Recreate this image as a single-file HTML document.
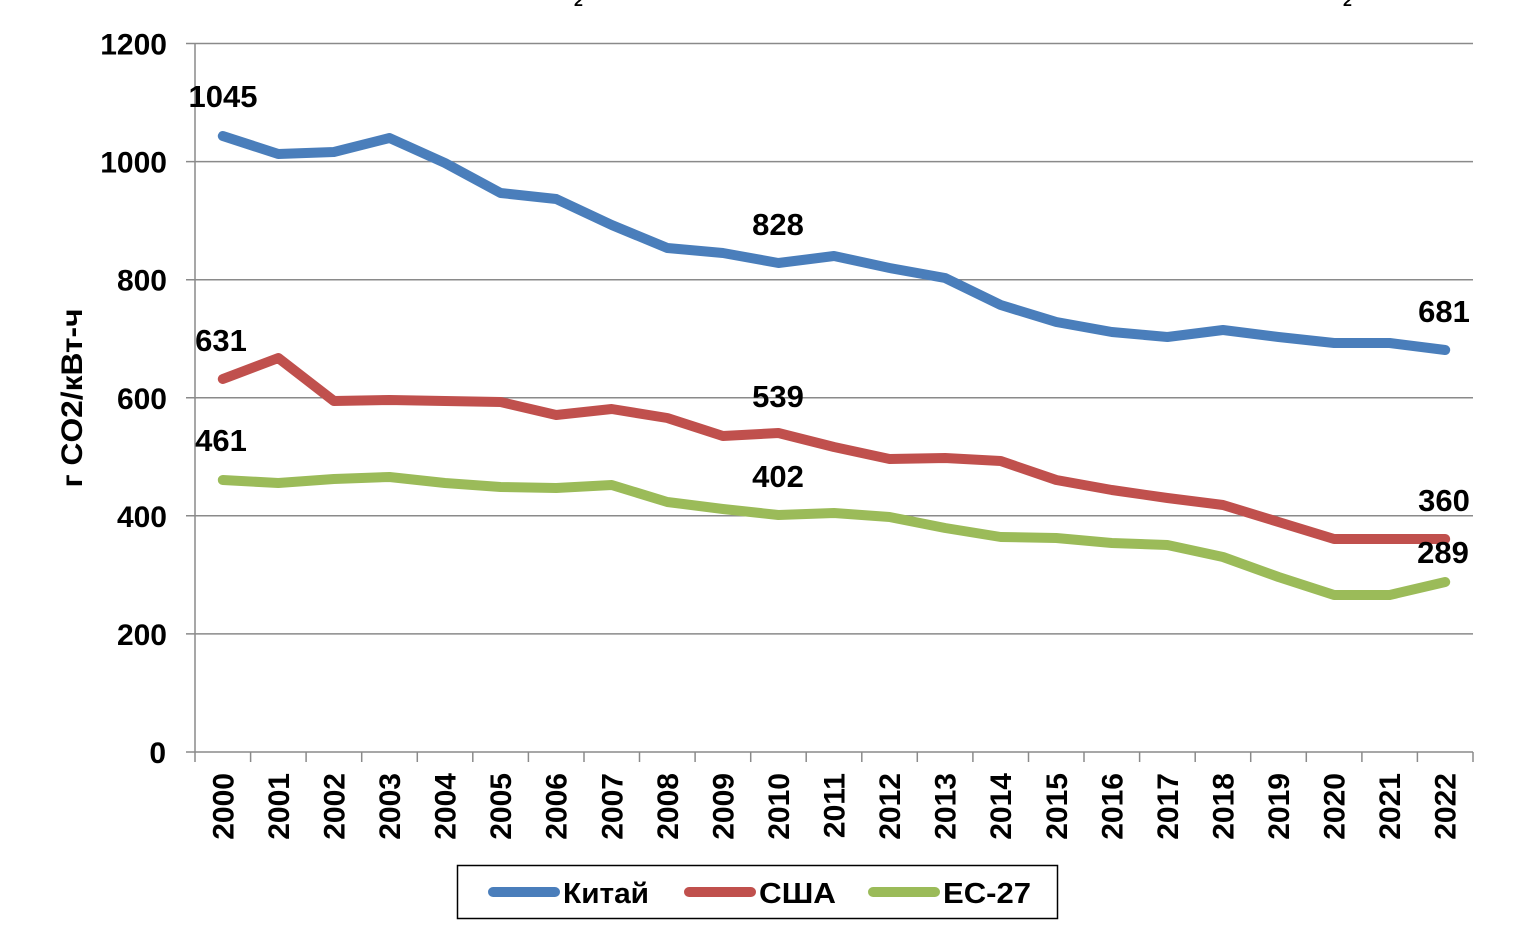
<!DOCTYPE html>
<html><head><meta charset="utf-8"><style>
html,body{margin:0;padding:0;background:#fff;}
svg{display:block;}
text{font-family:"Liberation Sans",Arial,sans-serif;font-weight:bold;fill:#000;}
</style></head><body>
<svg width="1515" height="943" viewBox="0 0 1515 943" xmlns="http://www.w3.org/2000/svg">
<rect width="1515" height="943" fill="#fff"/>
<!-- cropped title remnants -->
<text x="574" y="6" font-size="16" font-weight="normal" fill="#222">2</text>
<text x="1343" y="6" font-size="16" font-weight="normal" fill="#222">2</text>
<!-- gridlines -->
<g stroke="#8a8a8a" stroke-width="1.5">
<line x1="186" y1="43.5" x2="1473" y2="43.5"/>
<line x1="186" y1="161.6" x2="1473" y2="161.6"/>
<line x1="186" y1="279.7" x2="1473" y2="279.7"/>
<line x1="186" y1="397.8" x2="1473" y2="397.8"/>
<line x1="186" y1="515.8" x2="1473" y2="515.8"/>
<line x1="186" y1="633.9" x2="1473" y2="633.9"/>
<line x1="186" y1="752" x2="1473" y2="752"/>
<line x1="195" y1="43.5" x2="195" y2="752"/>
</g>
<!-- x ticks -->
<g stroke="#8a8a8a" stroke-width="1.5">
<line x1="195" y1="752" x2="195" y2="762"/><line x1="250.6" y1="752" x2="250.6" y2="762"/><line x1="306.1" y1="752" x2="306.1" y2="762"/><line x1="361.7" y1="752" x2="361.7" y2="762"/><line x1="417.3" y1="752" x2="417.3" y2="762"/><line x1="472.8" y1="752" x2="472.8" y2="762"/><line x1="528.4" y1="752" x2="528.4" y2="762"/><line x1="584" y1="752" x2="584" y2="762"/><line x1="639.5" y1="752" x2="639.5" y2="762"/><line x1="695.1" y1="752" x2="695.1" y2="762"/><line x1="750.7" y1="752" x2="750.7" y2="762"/><line x1="806.2" y1="752" x2="806.2" y2="762"/><line x1="861.8" y1="752" x2="861.8" y2="762"/><line x1="917.3" y1="752" x2="917.3" y2="762"/><line x1="972.9" y1="752" x2="972.9" y2="762"/><line x1="1028.5" y1="752" x2="1028.5" y2="762"/><line x1="1084" y1="752" x2="1084" y2="762"/><line x1="1139.6" y1="752" x2="1139.6" y2="762"/><line x1="1195.2" y1="752" x2="1195.2" y2="762"/><line x1="1250.7" y1="752" x2="1250.7" y2="762"/><line x1="1306.3" y1="752" x2="1306.3" y2="762"/><line x1="1361.9" y1="752" x2="1361.9" y2="762"/><line x1="1417.4" y1="752" x2="1417.4" y2="762"/><line x1="1473" y1="752" x2="1473" y2="762"/>
</g>
<!-- y tick labels -->
<g font-size="30" text-anchor="end">
<text x="167" y="54.5">1200</text>
<text x="167" y="172.6">1000</text>
<text x="167" y="290.7">800</text>
<text x="167" y="408.8">600</text>
<text x="167" y="526.8">400</text>
<text x="167" y="644.9">200</text>
<text x="166" y="763">0</text>
</g>
<!-- y axis title -->
<text transform="translate(82,398) rotate(-90)" font-size="30" text-anchor="middle" textLength="179" lengthAdjust="spacingAndGlyphs">г CO2/кВт-ч</text>
<!-- x labels -->
<g font-size="30" text-anchor="end">
<text transform="translate(233.3,773) rotate(-90)">2000</text>
<text transform="translate(288.9,773) rotate(-90)">2001</text>
<text transform="translate(344.4,773) rotate(-90)">2002</text>
<text transform="translate(400,773) rotate(-90)">2003</text>
<text transform="translate(455.6,773) rotate(-90)">2004</text>
<text transform="translate(511.1,773) rotate(-90)">2005</text>
<text transform="translate(566.7,773) rotate(-90)">2006</text>
<text transform="translate(622.3,773) rotate(-90)">2007</text>
<text transform="translate(677.8,773) rotate(-90)">2008</text>
<text transform="translate(733.4,773) rotate(-90)">2009</text>
<text transform="translate(789,773) rotate(-90)">2010</text>
<text transform="translate(844.5,773) rotate(-90)">2011</text>
<text transform="translate(900.1,773) rotate(-90)">2012</text>
<text transform="translate(955.6,773) rotate(-90)">2013</text>
<text transform="translate(1011.2,773) rotate(-90)">2014</text>
<text transform="translate(1066.8,773) rotate(-90)">2015</text>
<text transform="translate(1122.3,773) rotate(-90)">2016</text>
<text transform="translate(1177.9,773) rotate(-90)">2017</text>
<text transform="translate(1233.5,773) rotate(-90)">2018</text>
<text transform="translate(1289,773) rotate(-90)">2019</text>
<text transform="translate(1344.6,773) rotate(-90)">2020</text>
<text transform="translate(1400.2,773) rotate(-90)">2021</text>
<text transform="translate(1455.7,773) rotate(-90)">2022</text>
</g>
<!-- series -->
<g fill="none" stroke-width="10" stroke-linejoin="round" stroke-linecap="round">
<polyline stroke="#4A7EBB" points="222.8,136 278.3,154 333.9,152 389.5,138 445,163 500.6,193 556.2,199 611.7,225 667.3,248 722.9,253 778.4,263 834,256 889.6,268 945.1,278 1000.7,305 1056.3,322 1111.8,332 1167.4,337 1223,330 1278.5,337 1334.1,343 1389.7,343 1445.2,350"/>
<polyline stroke="#C0504D" points="222.8,379 278.3,358 333.9,401 389.5,400 445,401 500.6,402 556.2,415 611.7,409 667.3,418 722.9,436 778.4,433 834,447 889.6,459 945.1,458 1000.7,461 1056.3,480 1111.8,490 1167.4,498 1223,505 1278.5,522 1334.1,539 1389.7,539 1445.2,539"/>
<polyline stroke="#9BBB59" points="222.8,480 278.3,483 333.9,479 389.5,477 445,483 500.6,487 556.2,488 611.7,485 667.3,502 722.9,509 778.4,515 834,513 889.6,517 945.1,528 1000.7,537 1056.3,538 1111.8,543 1167.4,545 1223,557 1278.5,577 1334.1,595 1389.7,595 1445.2,582"/>
</g>
<!-- data labels -->
<g font-size="31" text-anchor="middle">
<text x="223" y="107">1045</text>
<text x="221" y="351">631</text>
<text x="221" y="451">461</text>
<text x="778" y="235">828</text>
<text x="778" y="407">539</text>
<text x="778" y="487">402</text>
<text x="1444" y="322">681</text>
<text x="1444" y="511">360</text>
<text x="1443" y="563">289</text>
</g>
<!-- legend -->
<rect x="457.5" y="865.5" width="600" height="53" fill="#fff" stroke="#000" stroke-width="1.5"/>
<g stroke-width="10" stroke-linecap="round">
<line x1="493" y1="892" x2="555" y2="892" stroke="#4A7EBB"/>
<line x1="689" y1="892" x2="751" y2="892" stroke="#C0504D"/>
<line x1="873" y1="892" x2="935" y2="892" stroke="#9BBB59"/>
</g>
<g font-size="29">
<text x="563" y="903" textLength="86" lengthAdjust="spacingAndGlyphs">Китай</text>
<text x="759" y="903" textLength="77" lengthAdjust="spacingAndGlyphs">США</text>
<text x="943" y="903" textLength="88" lengthAdjust="spacingAndGlyphs">ЕС-27</text>
</g>
</svg>
</body></html>
